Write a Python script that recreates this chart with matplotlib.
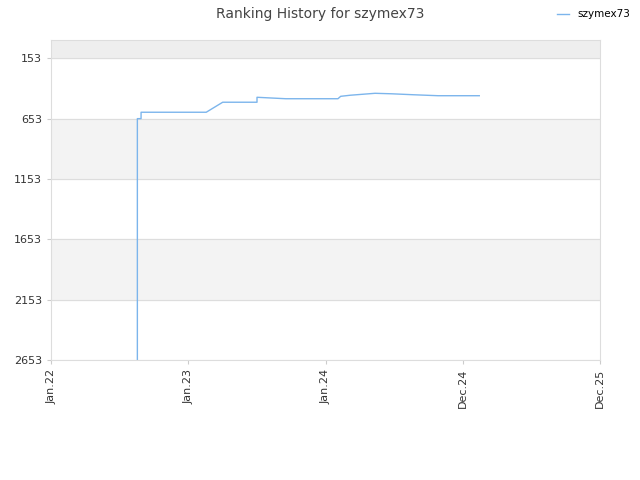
import matplotlib.pyplot as plt

# x in ticks units (0=Jan.22 ... 4=Dec.25), rank values
xs = [0.628, 0.628, 0.655, 0.655, 1.13, 1.25, 1.50, 1.50, 1.71, 2.09, 2.11, 2.18, 2.27, 2.36, 2.48, 2.64, 2.82, 3.12]
ranks = [2653, 653, 653, 600, 600, 517, 517, 476, 488, 488, 468, 459, 451, 443, 447, 455, 463, 463]
tick_labels = ['Jan.22', 'Jan.23', 'Jan.24', 'Dec.24', 'Dec.25']
yticks = [153, 653, 1153, 1653, 2153, 2653]

fig = plt.figure(figsize=(6.4, 4.8), dpi=100)
ax = fig.add_axes([0.08, 0.25, 0.8575, 0.667])

# alternating bands
ax.axhspan(0, 153, color='#eeeeee', zorder=0)
for i in range(len(yticks) - 1):
    if i % 2 == 1:
        ax.axhspan(yticks[i], yticks[i + 1], color='#f3f3f3', zorder=0)
for y in yticks:
    ax.axhline(y, color='#dddddd', lw=0.8, zorder=1)

ax.plot(xs, ranks, color='#7cb5ec', lw=1, label='szymex73', zorder=2)
ax.set_xlim(0, 4)
ax.set_ylim(2653, 0)
ax.set_yticks(yticks)
ax.set_yticklabels([str(v) for v in yticks], fontsize=8, color='#333333')
ax.set_xticks(range(5))
ax.set_xticklabels(tick_labels, rotation=90, fontsize=8, color='#333333')
for s in ax.spines.values():
    s.set_color('#dddddd')
ax.tick_params(length=3, color='#cccccc')

fig.suptitle('Ranking History for szymex73', fontsize=10, color='#444444', y=0.985)
fig.legend(loc='upper right', frameon=False, fontsize=7.5, handlelength=1.2, bbox_to_anchor=(1.0, 1.0))
fig.savefig('out.png')
